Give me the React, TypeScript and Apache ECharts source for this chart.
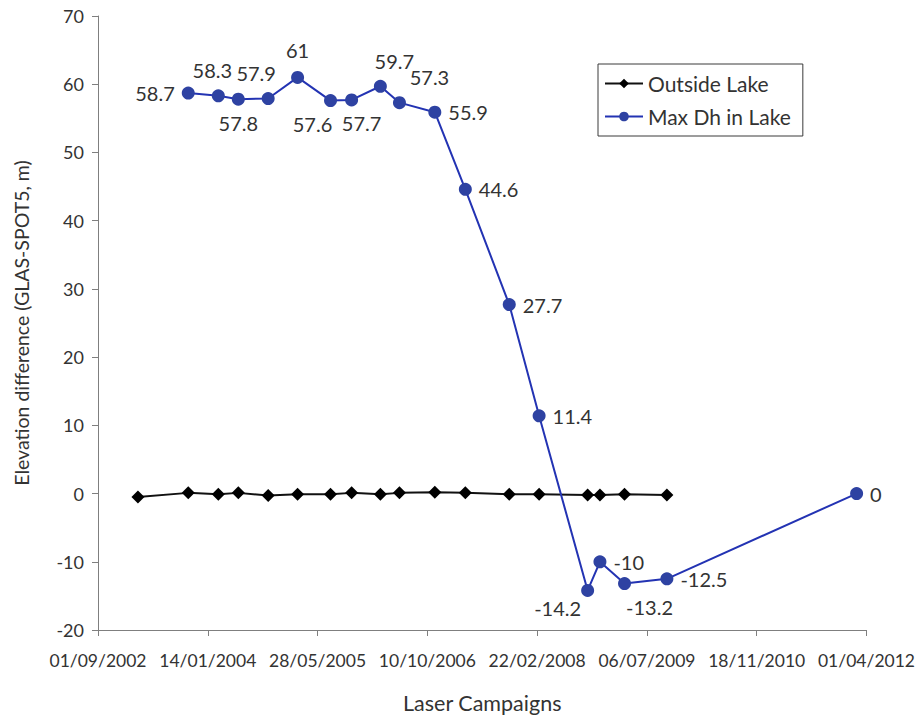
import React, { useEffect, useRef } from "react";
import * as echarts from "echarts";

// Campaign dates (ISO) and elevation differences in metres
const ORIGIN = "2002-09-01";
const outsideDates = [
  "2003-03-02", "2003-10-17", "2004-03-02", "2004-06-01", "2004-10-15",
  "2005-02-26", "2005-07-26", "2005-10-30", "2006-03-10", "2006-06-05",
  "2006-11-13", "2007-04-01", "2007-10-18", "2008-03-02", "2008-10-09",
  "2008-12-04", "2009-03-26", "2009-10-05",
];
const outsideValues = [
  -0.5, 0.1, -0.1, 0.1, -0.3, -0.1, -0.1, 0.1, -0.1, 0.1,
  0.2, 0.1, -0.1, -0.1, -0.2, -0.2, -0.1, -0.2,
];
const lakeDates = [
  "2003-10-17", "2004-03-02", "2004-06-01", "2004-10-15", "2005-02-26",
  "2005-07-26", "2005-10-30", "2006-03-10", "2006-06-05", "2006-11-13",
  "2007-04-01", "2007-10-18", "2008-03-02", "2008-10-09", "2008-12-04",
  "2009-03-26", "2009-10-05", "2012-02-16",
];
const lakeValues = [
  58.7, 58.3, 57.8, 57.9, 61, 57.6, 57.7, 59.7, 57.3, 55.9,
  44.6, 27.7, 11.4, -14.2, -10, -13.2, -12.5, 0,
];
const yTicks = { min: -20, max: 70, step: 10 };

// Where each value label of the lake series sits relative to its point
const lakeLabelPlacement: Array<[string, number, number]> = [
  ["left", 0, 0], ["top", -6, -2], ["bottom", 0, 0], ["top", -12, -2], ["top", 0, -4],
  ["bottom", -18, 0], ["bottom", 10, 0], ["top", 14, -2], ["top", 30, -2], ["right", 0, 0],
  ["right", 0, 0], ["right", 0, 0], ["right", 0, 0], ["bottom", -30, -6], ["right", 0, 0],
  ["bottom", 25, 0], ["right", 0, 0], ["right", 0, 0],
];

const DAY = 86400000;
const toDay = (s: string) => (Date.parse(s) - Date.parse(ORIGIN)) / DAY;
const pad = (n: number) => (n < 10 ? "0" + n : "" + n);
const fmtDay = (v: number) => {
  const d = new Date(Date.parse(ORIGIN) + v * DAY);
  return `${pad(d.getUTCDate())}/${pad(d.getUTCMonth() + 1)}/${d.getUTCFullYear()}`;
};

const FONT = "Lato";
const TEXT = "#333333";

export default function App() {
  const ref = useRef<HTMLDivElement>(null);

  useEffect(() => {
    if (!ref.current) return;
    const chart = echarts.init(ref.current, null, { renderer: "svg" });

    const outsideData = outsideDates.map((d, i) => [toDay(d), outsideValues[i]]);
    const lakeData = lakeDates.map((d, i) => {
      const [pos, dx, dy] = lakeLabelPlacement[i];
      return {
        value: [toDay(d), lakeValues[i]],
        label: { position: pos, offset: [dx, dy] },
      };
    });

    chart.setOption({
      animation: false,
      backgroundColor: "#ffffff",
      textStyle: { fontFamily: FONT },
      grid: { left: 98, right: 50, top: 16, bottom: 87, containLabel: false },
      legend: {
        orient: "vertical",
        left: 598,
        top: 64,
        backgroundColor: "#ffffff",
        borderColor: "#3a3a3a",
        borderWidth: 1,
        borderRadius: 0,
        padding: [9, 12, 9, 6],
        itemWidth: 38,
        itemHeight: 12,
        itemGap: 12,
        textStyle: { fontSize: 21, color: TEXT, fontFamily: FONT },
        data: ["Outside Lake", "Max Dh in Lake"],
      },
      xAxis: {
        type: "value",
        min: 0,
        max: 3500,
        interval: 500,
        name: "Laser Campaigns",
        nameLocation: "middle",
        nameGap: 62,
        nameTextStyle: { fontSize: 21.5, color: TEXT, fontFamily: FONT },
        axisLine: { onZero: false, lineStyle: { color: "#7f7f7f", width: 1 } },
        axisTick: { show: true, inside: false, length: 6, lineStyle: { color: "#7f7f7f" } },
        axisLabel: {
          fontSize: 17.5,
          color: TEXT,
          margin: 21,
          fontFamily: FONT,
          showMinLabel: true,
          showMaxLabel: true,
          formatter: (v: number) => fmtDay(v),
        },
        splitLine: { show: false },
      },
      yAxis: {
        type: "value",
        min: yTicks.min,
        max: yTicks.max,
        interval: yTicks.step,
        name: "Elevation difference (GLAS-SPOT5, m)",
        nameLocation: "middle",
        nameGap: 67,
        nameTextStyle: { fontSize: 19.5, color: TEXT, fontFamily: FONT },
        axisLine: { show: true, lineStyle: { color: "#7f7f7f", width: 1 } },
        axisTick: { show: true, inside: false, length: 6, lineStyle: { color: "#7f7f7f" } },
        axisLabel: { fontSize: 18, color: TEXT, margin: 14, fontFamily: FONT },
        splitLine: { show: false },
      },
      series: [
        {
          name: "Outside Lake",
          type: "line",
          data: outsideData,
          symbol: "diamond",
          symbolSize: 13,
          lineStyle: { color: "#111111", width: 2 },
          itemStyle: { color: "#000000" },
          z: 2,
        },
        {
          name: "Max Dh in Lake",
          type: "line",
          data: lakeData,
          symbol: "circle",
          symbolSize: 13,
          lineStyle: { color: "#2333b3", width: 2 },
          itemStyle: { color: "#2e42a2" },
          label: {
            show: true,
            fontSize: 20,
            color: TEXT,
            fontFamily: FONT,
            distance: 7,
            formatter: (p: any) => String(p.value[1]),
          },
          z: 3,
        },
      ],
    });

    return () => chart.dispose();
  }, []);

  return (
    <div
      ref={ref}
      style={{ position: "fixed", left: 0, top: 0, width: 918, height: 719, background: "#fff" }}
    />
  );
}
